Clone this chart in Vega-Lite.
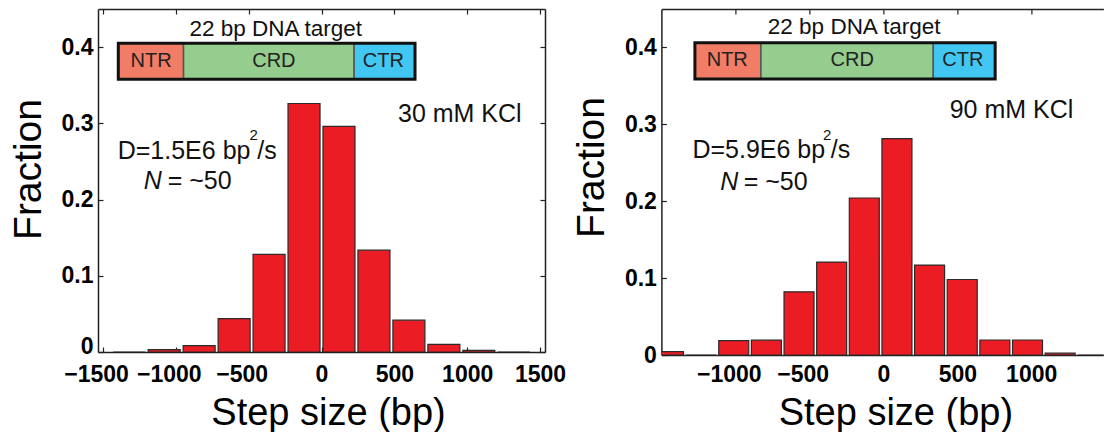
{
  "$schema": "https://vega.github.io/schema/vega-lite/v6.json",
  "padding": {"left": 9, "top": 8, "right": 0, "bottom": 0},
  "bounds": "flush",
  "spacing": 116.4,
  "config": {
    "view": {"stroke": null},
    "font": "Liberation Sans",
    "axis": {
      "labelFont": "Liberation Sans",
      "labelFontWeight": "bold",
      "labelFontSize": 23,
      "labelColor": "#000000",
      "titleFont": "Liberation Sans",
      "titleFontWeight": "normal",
      "titleColor": "#000000",
      "domainColor": "#222222",
      "domainWidth": 1.5,
      "tickColor": "#222222",
      "tickWidth": 1.2,
      "tickSize": -5,
      "grid": false,
      "labelOverlap": false,
      "labelFlush": false
    }
  },
  "datasets": {
    "barsLeft": [
      {"step": -1320, "fraction": 0},
      {"step": -1080, "fraction": 0.003},
      {"step": -840, "fraction": 0.0084},
      {"step": -600, "fraction": 0.0439},
      {"step": -360, "fraction": 0.128},
      {"step": -120, "fraction": 0.326},
      {"step": 120, "fraction": 0.296},
      {"step": 360, "fraction": 0.1336},
      {"step": 600, "fraction": 0.0417},
      {"step": 840, "fraction": 0.0101},
      {"step": 1080, "fraction": 0.0022},
      {"step": 1320, "fraction": 0}
    ],
    "barsRight": [
      {"step": -1456, "fraction": 0.0045},
      {"step": -1235, "fraction": 0},
      {"step": -1014, "fraction": 0.0187},
      {"step": -793, "fraction": 0.0193},
      {"step": -572, "fraction": 0.0821},
      {"step": -351, "fraction": 0.1208},
      {"step": -130, "fraction": 0.2042},
      {"step": 91, "fraction": 0.2815},
      {"step": 312, "fraction": 0.1169},
      {"step": 533, "fraction": 0.0982},
      {"step": 754, "fraction": 0.0195},
      {"step": 975, "fraction": 0.0195},
      {"step": 1196, "fraction": 0.0024},
      {"step": 1417, "fraction": 0}
    ],
    "segLeft": [
      {"segment": "NTR", "start": -1395, "end": -947, "lo": 0.3578, "hi": 0.405, "labelX": -1170, "labelY": 0.382},
      {"segment": "CRD", "start": -947, "end": 224, "lo": 0.3578, "hi": 0.405, "labelX": -327, "labelY": 0.382},
      {"segment": "CTR", "start": 224, "end": 642, "lo": 0.3578, "hi": 0.405, "labelX": 424, "labelY": 0.382}
    ],
    "segRight": [
      {"segment": "NTR", "start": -1277, "end": -830, "lo": 0.3589, "hi": 0.4062, "labelX": -1058, "labelY": 0.3836},
      {"segment": "CRD", "start": -830, "end": 337, "lo": 0.3589, "hi": 0.4062, "labelX": -212, "labelY": 0.3836},
      {"segment": "CTR", "start": 337, "end": 756, "lo": 0.3589, "hi": 0.4062, "labelX": 537, "labelY": 0.3836}
    ],
    "frameLeft": [{"start": -1395, "end": 642, "lo": 0.3578, "hi": 0.405}],
    "frameRight": [{"start": -1277, "end": 756, "lo": 0.3589, "hi": 0.4062}],
    "notesLeft": [
      {"role": "title", "text": "22 bp DNA target", "x": -314, "y": 0.415},
      {"role": "note", "text": "30 mM KCl", "x": 525, "y": 0.3022},
      {"role": "note", "text": "D=1.5E6 bp", "x": -1399, "y": 0.2528},
      {"role": "sup", "text": "2", "x": -495, "y": 0.278},
      {"role": "note", "text": "/s", "x": -441, "y": 0.2528},
      {"role": "italic", "text": "N", "x": -1220, "y": 0.2135},
      {"role": "note", "text": "= ~50", "x": -1056, "y": 0.2135}
    ],
    "notesRight": [
      {"role": "title", "text": "22 bp DNA target", "x": -199, "y": 0.4171},
      {"role": "note", "text": "90 mM KCl", "x": 448, "y": 0.3078},
      {"role": "note", "text": "D=5.9E6 bp", "x": -1294, "y": 0.2558},
      {"role": "sup", "text": "2", "x": -410, "y": 0.2796},
      {"role": "note", "text": "/s", "x": -357, "y": 0.2558},
      {"role": "italic", "text": "N", "x": -1106, "y": 0.2146},
      {"role": "note", "text": "= ~50", "x": -947, "y": 0.2146}
    ]
  },
  "hconcat": [
    {
      "width": 447,
      "height": 343,
      "layer": [
        {
          "data": {"name": "barsLeft"},
          "mark": {"type": "bar", "size": 32, "color": "#EC1C24", "stroke": "#2A2A2A", "strokeWidth": 1.2, "clip": true},
          "encoding": {
            "x": {
              "field": "step", "type": "quantitative",
              "scale": {"domain": [-1500, 1500], "nice": false, "zero": false},
              "axis": {
                "orient": "bottom",
                "values": [-1500, -1000, -500, 0, 500, 1000, 1500],
                "format": "d",
                "labelPadding": 16,
                "labelOffset": {"condition": {"test": "datum.value < 0", "value": -7}, "value": 0},
                "title": "Step size (bp)",
                "titleFontSize": 38,
                "titleX": 230,
                "titleY": 42,
                "titleBaseline": "top"
              }
            },
            "y": {
              "field": "fraction", "type": "quantitative",
              "scale": {"domain": [0, 0.45], "nice": false},
              "axis": {
                "orient": "left",
                "values": [0, 0.1, 0.2, 0.3, 0.4],
                "format": "~g",
                "domain": true,
                "ticks": true,
                "domainColor": "#222222",
                "domainWidth": 1.5,
                "tickColor": "#222222",
                "tickSize": -5,
                "tickWidth": 1.2,
                "labelPadding": 10,
                "labelOffset": {"condition": {"test": "datum.value === 0", "value": -6}, "value": 0},
                "title": "Fraction",
                "titleFontSize": 39,
                "titleX": -58,
                "titleY": 160,
                "titleAngle": -90,
                "titleAlign": "center",
                "titleBaseline": "alphabetic"
              }
            }
          }
        },
        {
          "data": {"name": "segLeft"},
          "mark": {"type": "rect", "stroke": "#555555", "strokeWidth": 1.5},
          "encoding": {
            "x": {
              "field": "start", "type": "quantitative",
              "scale": {"domain": [-1500, 1500], "nice": false, "zero": false},
              "axis": {"orient": "top", "values": [-1500, -1000, -500, 0, 500, 1000, 1500], "labels": false, "title": null}
            },
            "x2": {"field": "end"},
            "y": {
              "field": "lo", "type": "quantitative",
              "scale": {"domain": [0, 0.45], "nice": false},
              "axis": {"orient": "right", "values": [0, 0.1, 0.2, 0.3, 0.4], "labels": false, "title": null}
            },
            "y2": {"field": "hi"},
            "color": {
              "field": "segment", "type": "nominal",
              "scale": {"domain": ["NTR", "CRD", "CTR"], "range": ["#F27D67", "#94CD8D", "#41C7F1"]},
              "legend": null
            }
          }
        },
        {
          "data": {"name": "frameLeft"},
          "mark": {"type": "rect", "fillOpacity": 0, "stroke": "#111111", "strokeWidth": 3},
          "encoding": {
            "x": {"field": "start", "type": "quantitative", "scale": {"domain": [-1500, 1500], "nice": false, "zero": false}, "axis": null},
            "x2": {"field": "end"},
            "y": {"field": "lo", "type": "quantitative", "scale": {"domain": [0, 0.45], "nice": false}, "axis": null},
            "y2": {"field": "hi"}
          }
        },
        {
          "data": {"name": "segLeft"},
          "mark": {"type": "text", "font": "Liberation Sans", "fontSize": 20, "color": "#222222", "align": "center", "baseline": "middle"},
          "encoding": {
            "x": {"field": "labelX", "type": "quantitative", "scale": {"domain": [-1500, 1500], "nice": false, "zero": false}, "axis": null},
            "y": {"field": "labelY", "type": "quantitative", "scale": {"domain": [0, 0.45], "nice": false}, "axis": null},
            "text": {"field": "segment"}
          }
        },
        {
          "data": {"name": "notesLeft"},
          "transform": [{"filter": "datum.role === 'title'"}],
          "mark": {"type": "text", "font": "Liberation Sans", "fontSize": 22.5, "color": "#111111", "align": "center", "baseline": "alphabetic"},
          "encoding": {
            "x": {"field": "x", "type": "quantitative", "scale": {"domain": [-1500, 1500], "nice": false, "zero": false}, "axis": null},
            "y": {"field": "y", "type": "quantitative", "scale": {"domain": [0, 0.45], "nice": false}, "axis": null},
            "text": {"field": "text"}
          }
        },
        {
          "data": {"name": "notesLeft"},
          "transform": [{"filter": "datum.role === 'note'"}],
          "mark": {"type": "text", "font": "Liberation Sans", "fontSize": 25, "color": "#111111", "align": "left", "baseline": "alphabetic"},
          "encoding": {
            "x": {"field": "x", "type": "quantitative", "scale": {"domain": [-1500, 1500], "nice": false, "zero": false}, "axis": null},
            "y": {"field": "y", "type": "quantitative", "scale": {"domain": [0, 0.45], "nice": false}, "axis": null},
            "text": {"field": "text"}
          }
        },
        {
          "data": {"name": "notesLeft"},
          "transform": [{"filter": "datum.role === 'sup'"}],
          "mark": {"type": "text", "font": "Liberation Sans", "fontSize": 15, "color": "#111111", "align": "left", "baseline": "alphabetic"},
          "encoding": {
            "x": {"field": "x", "type": "quantitative", "scale": {"domain": [-1500, 1500], "nice": false, "zero": false}, "axis": null},
            "y": {"field": "y", "type": "quantitative", "scale": {"domain": [0, 0.45], "nice": false}, "axis": null},
            "text": {"field": "text"}
          }
        },
        {
          "data": {"name": "notesLeft"},
          "transform": [{"filter": "datum.role === 'italic'"}],
          "mark": {"type": "text", "font": "Liberation Sans", "fontSize": 25, "fontStyle": "italic", "color": "#111111", "align": "left", "baseline": "alphabetic"},
          "encoding": {
            "x": {"field": "x", "type": "quantitative", "scale": {"domain": [-1500, 1500], "nice": false, "zero": false}, "axis": null},
            "y": {"field": "y", "type": "quantitative", "scale": {"domain": [0, 0.45], "nice": false}, "axis": null},
            "text": {"field": "text"}
          }
        }
      ]
    },
    {
      "width": 442,
      "height": 346,
      "layer": [
        {
          "data": {"name": "barsRight"},
          "mark": {"type": "bar", "size": 30, "color": "#EC1C24", "stroke": "#2A2A2A", "strokeWidth": 1.2, "clip": true},
          "encoding": {
            "x": {
              "field": "step", "type": "quantitative",
              "scale": {"domain": [-1470, 1455], "nice": false, "zero": false},
              "axis": {
                "orient": "bottom",
                "values": [-1000, -500, 0, 500, 1000],
                "format": "d",
                "labelPadding": 13,
                "labelOffset": {"condition": {"test": "datum.value < 0", "value": -7}, "value": 0},
                "title": "Step size (bp)",
                "titleFontSize": 38,
                "titleX": 234,
                "titleY": 39,
                "titleBaseline": "top"
              }
            },
            "y": {
              "field": "fraction", "type": "quantitative",
              "scale": {"domain": [0, 0.45], "nice": false},
              "axis": {
                "orient": "left",
                "values": [0, 0.1, 0.2, 0.3, 0.4],
                "format": "~g",
                "domain": true,
                "ticks": true,
                "domainColor": "#222222",
                "domainWidth": 1.5,
                "tickColor": "#222222",
                "tickSize": -5,
                "tickWidth": 1.2,
                "labelPadding": 10,
                "title": "Fraction",
                "titleFontSize": 39,
                "titleX": -58,
                "titleY": 158,
                "titleAngle": -90,
                "titleAlign": "center",
                "titleBaseline": "alphabetic"
              }
            }
          }
        },
        {
          "data": {"name": "segRight"},
          "mark": {"type": "rect", "stroke": "#555555", "strokeWidth": 1.5},
          "encoding": {
            "x": {
              "field": "start", "type": "quantitative",
              "scale": {"domain": [-1470, 1455], "nice": false, "zero": false},
              "axis": {"orient": "top", "values": [-1000, -500, 0, 500, 1000], "labels": false, "title": null}
            },
            "x2": {"field": "end"},
            "y": {
              "field": "lo", "type": "quantitative",
              "scale": {"domain": [0, 0.45], "nice": false},
              "axis": {"orient": "right", "values": [0.1], "labels": false, "ticks": false, "domain": false, "title": null}
            },
            "y2": {"field": "hi"},
            "color": {
              "field": "segment", "type": "nominal",
              "scale": {"domain": ["NTR", "CRD", "CTR"], "range": ["#F27D67", "#94CD8D", "#41C7F1"]},
              "legend": null
            }
          }
        },
        {
          "data": {"name": "frameRight"},
          "mark": {"type": "rect", "fillOpacity": 0, "stroke": "#111111", "strokeWidth": 3},
          "encoding": {
            "x": {"field": "start", "type": "quantitative", "scale": {"domain": [-1470, 1455], "nice": false, "zero": false}, "axis": null},
            "x2": {"field": "end"},
            "y": {"field": "lo", "type": "quantitative", "scale": {"domain": [0, 0.45], "nice": false}, "axis": null},
            "y2": {"field": "hi"}
          }
        },
        {
          "data": {"name": "segRight"},
          "mark": {"type": "text", "font": "Liberation Sans", "fontSize": 20, "color": "#222222", "align": "center", "baseline": "middle"},
          "encoding": {
            "x": {"field": "labelX", "type": "quantitative", "scale": {"domain": [-1470, 1455], "nice": false, "zero": false}, "axis": null},
            "y": {"field": "labelY", "type": "quantitative", "scale": {"domain": [0, 0.45], "nice": false}, "axis": null},
            "text": {"field": "segment"}
          }
        },
        {
          "data": {"name": "notesRight"},
          "transform": [{"filter": "datum.role === 'title'"}],
          "mark": {"type": "text", "font": "Liberation Sans", "fontSize": 22.5, "color": "#111111", "align": "center", "baseline": "alphabetic"},
          "encoding": {
            "x": {"field": "x", "type": "quantitative", "scale": {"domain": [-1470, 1455], "nice": false, "zero": false}, "axis": null},
            "y": {"field": "y", "type": "quantitative", "scale": {"domain": [0, 0.45], "nice": false}, "axis": null},
            "text": {"field": "text"}
          }
        },
        {
          "data": {"name": "notesRight"},
          "transform": [{"filter": "datum.role === 'note'"}],
          "mark": {"type": "text", "font": "Liberation Sans", "fontSize": 25, "color": "#111111", "align": "left", "baseline": "alphabetic"},
          "encoding": {
            "x": {"field": "x", "type": "quantitative", "scale": {"domain": [-1470, 1455], "nice": false, "zero": false}, "axis": null},
            "y": {"field": "y", "type": "quantitative", "scale": {"domain": [0, 0.45], "nice": false}, "axis": null},
            "text": {"field": "text"}
          }
        },
        {
          "data": {"name": "notesRight"},
          "transform": [{"filter": "datum.role === 'sup'"}],
          "mark": {"type": "text", "font": "Liberation Sans", "fontSize": 15, "color": "#111111", "align": "left", "baseline": "alphabetic"},
          "encoding": {
            "x": {"field": "x", "type": "quantitative", "scale": {"domain": [-1470, 1455], "nice": false, "zero": false}, "axis": null},
            "y": {"field": "y", "type": "quantitative", "scale": {"domain": [0, 0.45], "nice": false}, "axis": null},
            "text": {"field": "text"}
          }
        },
        {
          "data": {"name": "notesRight"},
          "transform": [{"filter": "datum.role === 'italic'"}],
          "mark": {"type": "text", "font": "Liberation Sans", "fontSize": 25, "fontStyle": "italic", "color": "#111111", "align": "left", "baseline": "alphabetic"},
          "encoding": {
            "x": {"field": "x", "type": "quantitative", "scale": {"domain": [-1470, 1455], "nice": false, "zero": false}, "axis": null},
            "y": {"field": "y", "type": "quantitative", "scale": {"domain": [0, 0.45], "nice": false}, "axis": null},
            "text": {"field": "text"}
          }
        }
      ]
    }
  ]
}
